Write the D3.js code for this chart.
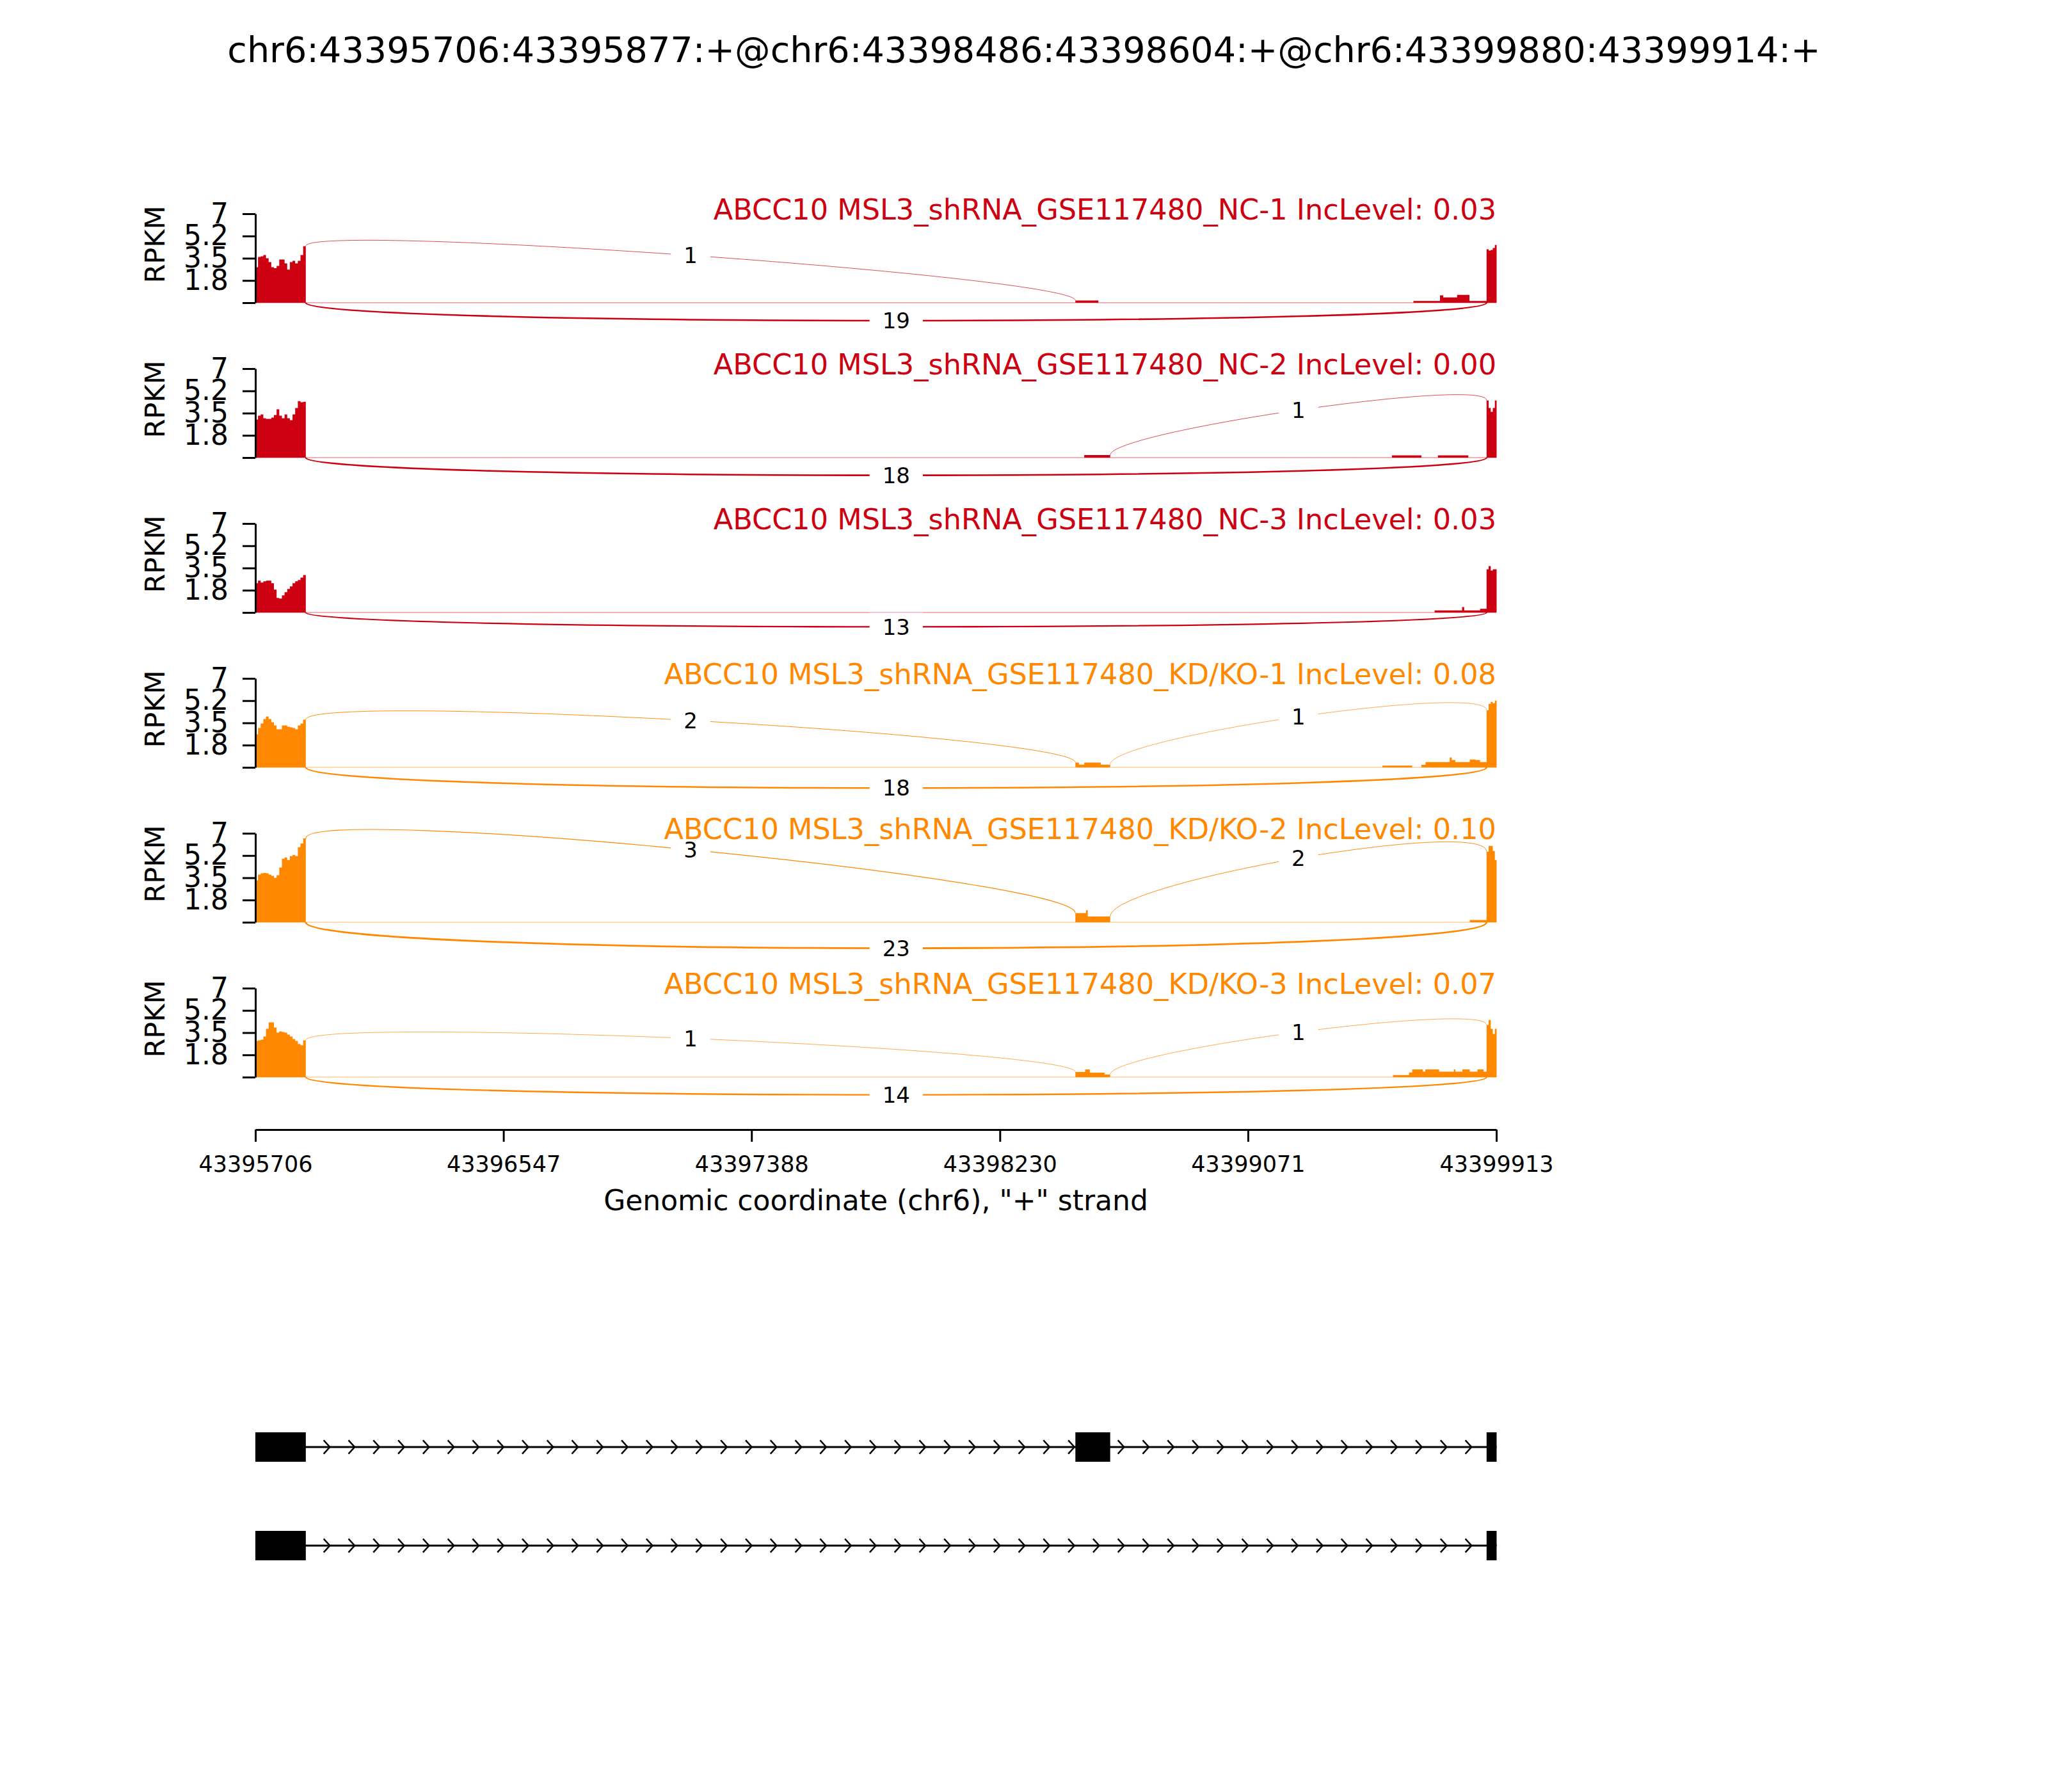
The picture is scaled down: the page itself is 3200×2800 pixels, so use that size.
<!doctype html>
<html lang="en">
  <head>
    <meta charset="utf-8">
    <title>sashimi plot ABCC10</title>
    <script src="https://d3js.org/d3.v7.min.js"></script>
    <style>
      body { margin: 0; background: #fff; }
      text { font-family: 'DejaVu Sans', sans-serif; }
    </style>
  </head>
  <body>
    <div id="root"></div>
  </body>
  <script>

    //data:
    const regionStart = 43395706;
    const regionEnd = 43399913;
    const eventTitle = "chr6:43395706:43395877:+@chr6:43398486:43398604:+@chr6:43399880:43399914:+";
    const xLabel = 'Genomic coordinate (chr6), "+" strand';
    const sampleNames = [
      "ABCC10 MSL3_shRNA_GSE117480_NC-1",
      "ABCC10 MSL3_shRNA_GSE117480_NC-2",
      "ABCC10 MSL3_shRNA_GSE117480_NC-3",
      "ABCC10 MSL3_shRNA_GSE117480_KD/KO-1",
      "ABCC10 MSL3_shRNA_GSE117480_KD/KO-2",
      "ABCC10 MSL3_shRNA_GSE117480_KD/KO-3"
    ];
    const incLevels = ["0.03", "0.00", "0.03", "0.08", "0.10", "0.07"];
    const sampleGroup = [0, 0, 0, 1, 1, 1];
    const groupColors = ["#CC0011", "#FF8800"];

    const xTicks = [43395706, 43396547, 43397388, 43398230, 43399071, 43399913];
    const yTicks = [0, 1.75, 3.5, 5.25, 7];
    const yTickLabels = ["", "1.8", "3.5", "5.2", "7"];

    // exon 1 coverage, bins of 9 bp from 43395706
    const exon1BinSize = 9;
    const exon1Rpkm = [
      [2.8, 3.6, 3.65, 3.75, 3.5, 3.2, 2.8, 2.72, 2.9, 3.4, 3.4, 3.1, 2.6, 3.2, 3.3, 3.1, 3.3, 3.75, 4.45],
      [3.0, 3.3, 3.4, 3.1, 3.05, 3.05, 3.15, 3.35, 3.8, 3.3, 3.1, 3.4, 3.1, 2.95, 3.4, 3.9, 4.45, 4.35, 4.4],
      [2.3, 2.5, 2.35, 2.45, 2.5, 2.5, 2.3, 1.8, 1.15, 1.1, 1.35, 1.6, 1.85, 2.05, 2.3, 2.45, 2.55, 2.75, 2.94],
      [2.6, 3.1, 3.45, 3.8, 4.0, 3.8, 3.55, 3.3, 3.0, 3.0, 3.3, 3.3, 3.2, 3.15, 3.1, 3.0, 3.3, 3.45, 3.75],
      [3.3, 3.75, 3.85, 3.88, 3.85, 3.75, 3.65, 3.5, 3.7, 4.3, 5.0, 5.1, 4.9, 5.2, 5.3, 5.2, 5.9, 6.2, 6.6],
      [2.85, 2.9, 2.95, 3.2, 3.8, 4.3, 4.3, 3.9, 3.5, 3.6, 3.55, 3.5, 3.35, 3.2, 3.0, 2.85, 2.6, 2.5, 2.9]
    ];

    // exon 3 coverage
    const exon3Edges = [43399880, 43399887, 43399894, 43399901, 43399908, 43399914];
    const exon3Rpkm = [
      [4.2, 4.1, 4.15, 4.3, 4.55],
      [4.5, 3.9, 3.6, 3.9, 4.5],
      [3.4, 3.65, 3.3, 3.4, 3.4],
      [4.5, 5.0, 5.15, 5.05, 5.25],
      [5.55, 6.0, 6.0, 5.6, 4.9],
      [4.1, 4.5, 3.8, 3.4, 3.8]
    ];

    // exon 2 and intronic coverage: [start, end, rpkm]
    const otherRpkm = [
      [[43398486, 43398564, 0.18], [43399632, 43399722, 0.14], [43399722, 43399733, 0.58],
       [43399733, 43399780, 0.41], [43399780, 43399822, 0.62], [43399822, 43399880, 0.14]],
      [[43398516, 43398604, 0.2], [43399559, 43399659, 0.18], [43399715, 43399818, 0.18]],
      [[43399704, 43399797, 0.16], [43399797, 43399804, 0.43], [43399804, 43399858, 0.16],
       [43399858, 43399880, 0.29]],
      [[43398486, 43398498, 0.38], [43398498, 43398516, 0.22], [43398516, 43398572, 0.38],
       [43398572, 43398604, 0.22], [43399527, 43399628, 0.14], [43399659, 43399673, 0.2],
       [43399673, 43399755, 0.41], [43399755, 43399762, 0.78], [43399762, 43399774, 0.58],
       [43399774, 43399823, 0.41], [43399823, 43399842, 0.62], [43399842, 43399858, 0.58],
       [43399858, 43399880, 0.41]],
      [[43398486, 43398522, 0.72], [43398522, 43398528, 0.95], [43398528, 43398604, 0.45],
       [43399823, 43399880, 0.18]],
      [[43398486, 43398519, 0.4], [43398519, 43398535, 0.6], [43398535, 43398585, 0.35],
       [43398585, 43398604, 0.2], [43399563, 43399617, 0.16], [43399617, 43399628, 0.37],
       [43399628, 43399664, 0.6], [43399664, 43399672, 0.43], [43399672, 43399719, 0.6],
       [43399719, 43399769, 0.43], [43399769, 43399774, 0.6], [43399774, 43399798, 0.43],
       [43399798, 43399823, 0.6], [43399823, 43399849, 0.43], [43399849, 43399870, 0.6],
       [43399870, 43399880, 0.43]]
    ];

    // junctions: exon1-exon2, exon2-exon3, exon1-exon3 (skipping)
    const juncCoords = [[43395877, 43398486], [43398604, 43399880], [43395877, 43399880]];
    const juncCounts = [
      [1, 0, 19],
      [0, 1, 18],
      [0, 0, 13],
      [2, 1, 18],
      [3, 2, 23],
      [1, 1, 14]
    ];

    const isoforms = [
      [[43395706, 43395877], [43398486, 43398604], [43399880, 43399914]],
      [[43395706, 43395877], [43399880, 43399914]]
    ];

    //layout:
    const width = 3200;
    const height = 2800;
    const plotLeft = 399, plotRight = 2338;
    const panelTop = 334, panelStep = 242, panelH = 139;
    const xAxisY = 1765;
    const geneY = 2261, geneStep = 154, exonH = 46;

    const svg = d3.select("#root")
      .append("svg")
      .attr("width", width)
      .attr("height", height)
      .style("background", "#fff");

    const x = d3.scaleLinear().domain([regionStart, regionEnd]).range([plotLeft, plotRight]);

    //title:
    svg.append("text")
      .attr("x", width / 2)
      .attr("y", 97)
      .attr("text-anchor", "middle")
      .attr("font-size", 55.6)
      .text(eventTitle);

    sampleNames.forEach(function(name, i) {
      const top = panelTop + i * panelStep;
      const y = d3.scaleLinear().domain([0, 7]).range([top + panelH, top]);
      const color = groupColors[sampleGroup[i]];
      const g = svg.append("g");

      //coverage segments
      const segs = [];
      exon1Rpkm[i].forEach(function(v, k) {
        segs.push([regionStart + k * exon1BinSize, regionStart + (k + 1) * exon1BinSize, v]);
      });
      otherRpkm[i].forEach(function(s) { segs.push(s); });
      exon3Rpkm[i].forEach(function(v, k) {
        segs.push([exon3Edges[k], exon3Edges[k + 1], v]);
      });

      //faint zero line
      g.append("line")
        .attr("x1", x(regionStart)).attr("x2", x(regionEnd))
        .attr("y1", y(0)).attr("y2", y(0))
        .attr("stroke", color).attr("stroke-opacity", 0.3).attr("stroke-width", 2);

      const pts = [];
      let prevEnd = null;
      segs.forEach(function(s) {
        if (prevEnd !== s[0]) {
          if (prevEnd !== null) pts.push([prevEnd, 0]);
          pts.push([s[0], 0]);
        }
        pts.push([s[0], s[2]], [s[1], s[2]]);
        prevEnd = s[1];
      });
      pts.push([prevEnd, 0]);

      g.append("path")
        .datum(pts)
        .attr("d", d3.area().x(d => x(d[0])).y0(y(0)).y1(d => y(d[1])))
        .attr("fill", color);

      function covLeft(bp) {
        const s = segs.find(d => d[0] < bp && bp <= d[1]);
        return s ? s[2] : 0;
      }
      function covRight(bp) {
        const s = segs.find(d => d[0] <= bp && bp < d[1]);
        return s ? s[2] : 0;
      }

      //junction arcs
      const h = 0.4125 * d3.max(segs, d => d[2]);
      const labels = [];
      juncCoords.forEach(function(jc, j) {
        const c = juncCounts[i][j];
        if (!c) return;
        const l = jc[0], r = jc[1];
        let p;
        if (j === 2) {
          p = [[l, 0], [l, -h], [r, -h], [r, 0]];
        } else {
          const ld = covLeft(l), rd = covRight(r);
          p = [[l, ld], [l, ld + h], [r, rd + h], [r, rd]];
        }
        const path = d3.path();
        path.moveTo(x(p[0][0]), y(p[0][1]));
        path.bezierCurveTo(x(p[1][0]), y(p[1][1]), x(p[2][0]), y(p[2][1]), x(p[3][0]), y(p[3][1]));
        g.append("path")
          .attr("d", path.toString())
          .attr("fill", "none")
          .attr("stroke", color)
          .attr("stroke-width", Math.max(0.7, 2 * Math.log10(c + 1)));
        labels.push({
          x: (x(l) + x(r)) / 2,
          y: y((p[0][1] + 3 * p[1][1] + 3 * p[2][1] + p[3][1]) / 8),
          t: String(c)
        });
      });

      labels.forEach(function(d) {
        const tw = d.t.length * 0.636 * 34;
        g.append("rect")
          .attr("x", d.x - tw / 2 - 20).attr("y", d.y - 22)
          .attr("width", tw + 40).attr("height", 44)
          .attr("fill", "#fff");
        g.append("text")
          .attr("x", d.x).attr("y", d.y)
          .attr("dy", "0.36em")
          .attr("text-anchor", "middle")
          .attr("font-size", 34)
          .attr("fill", "#000")
          .text(d.t);
      });

      //y axis
      const ya = g.append("g")
        .attr("transform", `translate(${plotLeft},0)`)
        .call(d3.axisLeft(y).tickValues(yTicks)
          .tickFormat((d, k) => yTickLabels[k])
          .tickSize(20).tickSizeOuter(0).tickPadding(22));
      ya.select(".domain").attr("stroke-width", 3);
      ya.selectAll(".tick line").attr("stroke-width", 3);
      ya.selectAll(".tick text").attr("font-size", 44).attr("font-family", "DejaVu Sans").attr("fill", "#000");

      g.append("text")
        .attr("transform", `translate(242,${top + 48}) rotate(-90)`)
        .attr("text-anchor", "middle")
        .attr("dy", "0.36em")
        .attr("font-size", 43)
        .text("RPKM");

      //panel title
      g.append("text")
        .attr("x", plotRight)
        .attr("y", top + 9)
        .attr("text-anchor", "end")
        .attr("font-size", 44.6)
        .attr("fill", color)
        .text(name + " IncLevel: " + incLevels[i]);
    });

    //x axis
    const xa = svg.append("g")
      .attr("transform", `translate(0,${xAxisY})`)
      .call(d3.axisBottom(x).tickValues(xTicks).tickFormat(d3.format("d"))
        .tickSize(19).tickSizeOuter(0).tickPadding(22));
    xa.select(".domain").attr("stroke-width", 3);
    xa.selectAll(".tick line").attr("stroke-width", 3);
    xa.selectAll(".tick text").attr("font-size", 35).attr("font-family", "DejaVu Sans").attr("fill", "#000");

    svg.append("text")
      .attr("x", (plotLeft + plotRight) / 2)
      .attr("y", 1891)
      .attr("text-anchor", "middle")
      .attr("font-size", 44)
      .text(xLabel);

    //gene models
    const chevronStep = (regionEnd - regionStart) / 50;
    isoforms.forEach(function(exons, k) {
      const yc = geneY + k * geneStep;
      const gg = svg.append("g");
      const first = exons[0], last = exons[exons.length - 1];
      gg.append("line")
        .attr("x1", x(first[0])).attr("x2", x(last[1]))
        .attr("y1", yc).attr("y2", yc)
        .attr("stroke", "#000").attr("stroke-width", 3);
      for (let m = 1; m < 50; m++) {
        const bp = regionStart + m * chevronStep;
        if (bp <= first[1] || bp >= last[0]) continue;
        const tx = x(bp);
        gg.append("path")
          .attr("d", `M${tx - 9.6},${yc - 10.7}L${tx},${yc}L${tx - 9.6},${yc + 10.7}`)
          .attr("fill", "none").attr("stroke", "#000").attr("stroke-width", 2.5);
      }
      gg.selectAll("rect.exon")
        .data(exons)
        .enter()
        .append("rect")
        .attr("class", "exon")
        .attr("x", d => x(d[0]))
        .attr("y", yc - exonH / 2)
        .attr("width", d => x(d[1]) - x(d[0]))
        .attr("height", exonH)
        .attr("fill", "#000");
    });

  </script>
</html>
